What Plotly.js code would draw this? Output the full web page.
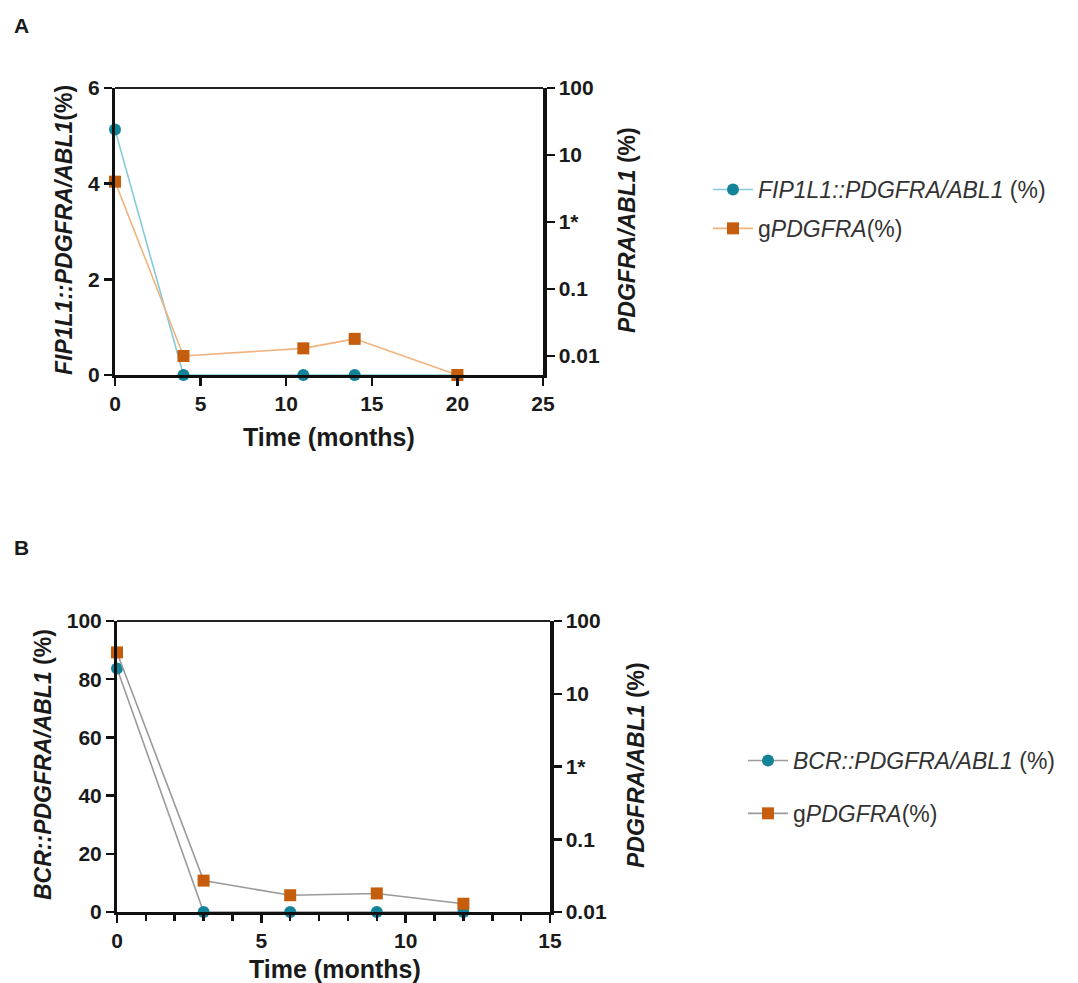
<!DOCTYPE html>
<html><head><meta charset="utf-8">
<script src="https://cdn.plot.ly/plotly-3.0.1.min.js"></script>
<style>html,body{margin:0;padding:0;background:#fff}#chart{width:1078px;height:983px}</style>
</head><body><div id="chart"></div>
<script>
// ---- data ----
const timeA = [0, 4, 11, 14, 20];
const fusionA = [5.13, 0, 0, 0, 0];
const gPdgfraA = [4.0, 0.010, 0.013, 0.018, 0.0052];
const timeB = [0, 3, 6, 9, 12];
const fusionB = [83.7, 0, 0, 0, 0];
const gPdgfraB = [37, 0.027, 0.017, 0.018, 0.013];
const xTicksA = [0, 5, 10, 15, 20, 25];
const xTicksB = [0, 5, 10, 15];
const yTicksA = [0, 2, 4, 6];
const yTicksB = [0, 20, 40, 60, 80, 100];
const logTickVals = [0.01, 0.1, 1, 10, 100];
const logTickText = ['0.01', '0.1', '1*', '10', '100'];
const legendNamesA = ['<i>FIP1L1::PDGFRA/ABL1</i> (%)', 'g<i>PDGFRA</i>(%)'];
const legendNamesB = ['<i>BCR::PDGFRA/ABL1</i> (%)', 'g<i>PDGFRA</i>(%)'];

const FONT = 'Liberation Sans, Arial, sans-serif';
const TEAL = '#13839a', ORANGE = '#c65d0c';
const W = 1078, H = 983;
const px = v => v / W, py = v => 1 - v / H;

const traces = [
  {x: timeA, y: gPdgfraA, xaxis: 'x', yaxis: 'y2', name: legendNamesA[1], legend: 'legend', legendgroup: 'a2', legendrank: 2,
   mode: 'lines+markers', line: {color: '#f0b37e', width: 1.6}, marker: {symbol: 'square', size: 12, color: ORANGE}, cliponaxis: false},
  {x: timeA, y: fusionA, xaxis: 'x', yaxis: 'y', name: legendNamesA[0], legend: 'legend', legendgroup: 'a1', legendrank: 1,
   mode: 'lines+markers', line: {color: '#86cad9', width: 1.6}, marker: {symbol: 'circle', size: 12, color: TEAL}, cliponaxis: false},
  {x: timeB, y: gPdgfraB, xaxis: 'x2', yaxis: 'y4', name: legendNamesB[1], legend: 'legend2', legendgroup: 'b2', legendrank: 2,
   mode: 'lines+markers', line: {color: '#9a9a9a', width: 1.6}, marker: {symbol: 'square', size: 12, color: ORANGE}, cliponaxis: false},
  {x: timeB, y: fusionB, xaxis: 'x2', yaxis: 'y3', name: legendNamesB[0], legend: 'legend2', legendgroup: 'b1', legendrank: 1,
   mode: 'lines+markers', line: {color: '#9a9a9a', width: 1.6}, marker: {symbol: 'circle', size: 12, color: TEAL}, cliponaxis: false}
];

const tickFont = {family: FONT, size: 21, weight: 'bold', color: '#1a1a1a'};
const axBase = {showgrid: false, zeroline: false, showline: true, linecolor: '#111', linewidth: 3,
  ticks: 'outside', ticklen: 8, tickwidth: 2.5, tickcolor: '#111', tickfont: tickFont, fixedrange: true};

const ann = (text, x, y, size, angle) => ({text, xref: 'paper', yref: 'paper', x: px(x), y: py(y),
  xanchor: 'center', yanchor: 'middle', textangle: angle || 0, showarrow: false,
  font: {family: FONT, size, color: '#1a1a1a'}});

const legendBase = {xanchor: 'left', yanchor: 'top', bgcolor: 'rgba(0,0,0,0)',
  font: {family: FONT, size: 23, color: '#333'}, itemwidth: 40, traceorder: 'grouped'};

const layout = {
  width: W, height: H, margin: {l: 0, r: 0, t: 0, b: 0},
  paper_bgcolor: '#fff', plot_bgcolor: '#fff', showlegend: true,
  font: {family: FONT, color: '#1a1a1a'},
  xaxis: Object.assign({}, axBase, {domain: [px(115), px(543)], anchor: 'y', range: [0, 25], tickvals: xTicksA}),
  yaxis: Object.assign({}, axBase, {domain: [py(375), py(88)], anchor: 'x', range: [0, 6], tickvals: yTicksA}),
  yaxis2: Object.assign({}, axBase, {overlaying: 'y', side: 'right', anchor: 'x', type: 'log',
    range: [Math.log10(0.0052), 2], tickvals: logTickVals, ticktext: logTickText, linewidth: 3.5}),
  xaxis2: Object.assign({}, axBase, {domain: [px(117), px(550)], anchor: 'y3', range: [0, 15], tickvals: xTicksB,
    minor: {dtick: 1, ticks: 'outside', ticklen: 6, tickwidth: 2.5, tickcolor: '#111'}}),
  yaxis3: Object.assign({}, axBase, {domain: [py(912), py(621)], anchor: 'x2', range: [0, 100], tickvals: yTicksB}),
  yaxis4: Object.assign({}, axBase, {overlaying: 'y3', side: 'right', anchor: 'x2', type: 'log',
    range: [-2, 2], tickvals: logTickVals, ticktext: logTickText, linewidth: 3.5}),
  legend: Object.assign({}, legendBase, {x: px(708), y: py(168), tracegroupgap: 6}),
  legend2: Object.assign({}, legendBase, {x: px(743), y: py(739), tracegroupgap: 20}),
  shapes: [
    {type: 'line', xref: 'x domain', yref: 'y domain', x0: 0, x1: 1, y0: 1, y1: 1, line: {color: '#222', width: 2}},
    {type: 'line', xref: 'x2 domain', yref: 'y3 domain', x0: 0, x1: 1, y0: 1, y1: 1, line: {color: '#222', width: 2}}
  ],
  annotations: [
    ann('<b>A</b>', 21, 25, 21),
    ann('<b>B</b>', 21, 547, 21),
    ann('<b>Time (months)</b>', 329, 437, 25),
    ann('<b>Time (months)</b>', 335, 969, 25),
    ann('<b><i>FIP1L1::PDGFRA/ABL1</i>(%)</b>', 64, 230, 23, -90),
    ann('<b><i>PDGFRA/ABL1</i> (%)</b>', 627, 230, 23, -90),
    ann('<b><i>BCR::PDGFRA/ABL1</i> (%)</b>', 43, 765, 23, -90),
    ann('<b><i>PDGFRA/ABL1</i> (%)</b>', 636, 765, 23, -90)
  ]
};

Plotly.newPlot('chart', traces, layout, {displayModeBar: false, staticPlot: true});
</script>
</body></html>
